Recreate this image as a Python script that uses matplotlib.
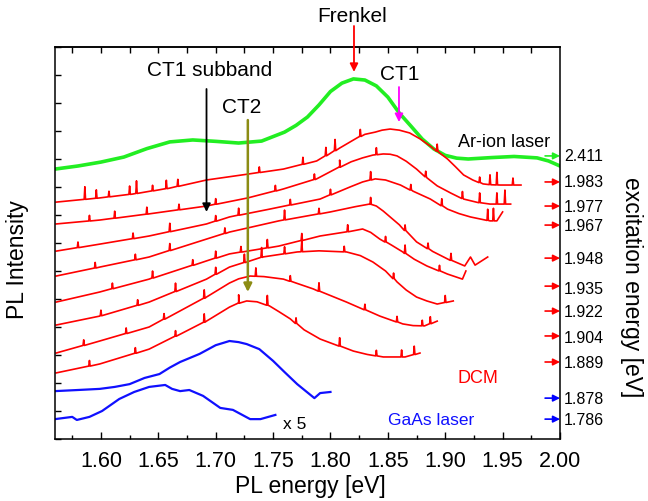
import numpy as np
import matplotlib.pyplot as plt

plt.rcParams['font.family'] = ['Liberation Sans', 'DejaVu Sans']

# Ar-ion laser excitation (2.411 eV)
green_x = [1.560, 1.580, 1.600, 1.620, 1.640, 1.660, 1.680, 1.700, 1.720, 1.740, 1.760, 1.770,
           1.780, 1.790, 1.800, 1.810, 1.820, 1.830, 1.840, 1.850, 1.860, 1.870, 1.880, 1.890,
           1.900, 1.910, 1.920, 1.940, 1.960, 1.980, 1.990, 2.000]
green_y = [9.64, 9.75, 9.89, 10.07, 10.37, 10.61, 10.68, 10.63, 10.57, 10.64, 10.96, 11.20,
           11.50, 11.93, 12.41, 12.71, 12.86, 12.82, 12.61, 12.21, 11.64, 11.18, 10.71, 10.36,
           10.13, 10.03, 10.00, 10.05, 10.09, 10.04, 9.93, 9.75]

# DCM dye laser excitation, curves from top to bottom
red_1983_x = [1.561, 1.599, 1.628, 1.660, 1.692, 1.728, 1.759, 1.788, 1.808, 1.823, 1.830, 1.839,
              1.845, 1.852, 1.860, 1.869, 1.878, 1.887, 1.895, 1.902, 1.909, 1.916, 1.924, 1.933,
              1.940, 1.948, 1.966]
red_1983_y = [8.46, 8.61, 8.75, 8.96, 9.25, 9.46, 9.64, 9.93, 10.39, 10.75, 10.88, 10.96,
              11.03, 11.07, 11.03, 10.93, 10.72, 10.46, 10.22, 10.00, 9.72, 9.43, 9.25, 9.11,
              9.08, 9.07, 9.07]
red_1983_spikes = [(1.586, 0.45), (1.596, 0.3), (1.607, 0.2), (1.625, 0.3), (1.631, 0.45),
                   (1.645, 0.2), (1.657, 0.3), (1.667, 0.25), (1.738, 0.2), (1.776, 0.25),
                   (1.796, 0.3), (1.804, 0.4), (1.826, 0.25), (1.893, 0.25), (1.930, 0.2),
                   (1.939, 0.35), (1.945, 0.45), (1.959, 0.25)]

red_1977_x = [1.561, 1.599, 1.642, 1.692, 1.728, 1.759, 1.788, 1.808, 1.818, 1.828, 1.837, 1.846,
              1.852, 1.858, 1.866, 1.875, 1.884, 1.893, 1.905, 1.916, 1.928, 1.939, 1.957]
red_1977_y = [7.68, 7.82, 8.04, 8.32, 8.61, 8.93, 9.29, 9.71, 9.90, 10.04, 10.14, 10.18,
              10.17, 10.11, 9.92, 9.64, 9.33, 9.04, 8.78, 8.57, 8.45, 8.39, 8.39]
red_1977_spikes = [(1.590, 0.2), (1.612, 0.25), (1.640, 0.25), (1.668, 0.2), (1.700, 0.2),
                   (1.752, 0.2), (1.786, 0.2), (1.808, 0.25), (1.840, 0.25), (1.883, 0.2),
                   (1.915, 0.25), (1.930, 0.35), (1.945, 0.4), (1.952, 0.5)]

red_1967_x = [1.561, 1.599, 1.642, 1.692, 1.712, 1.747, 1.791, 1.817, 1.828, 1.839, 1.848, 1.861,
              1.872, 1.887, 1.902, 1.912, 1.922, 1.939, 1.945, 1.950]
red_1967_y = [6.71, 6.96, 7.25, 7.68, 7.93, 8.21, 8.57, 9.00, 9.18, 9.29, 9.25, 9.07,
              8.85, 8.57, 8.21, 8.05, 7.93, 7.79, 7.79, 8.11]
red_1967_spikes = [(1.580, 0.2), (1.628, 0.2), (1.660, 0.3), (1.700, 0.2), (1.720, 0.25),
                   (1.765, 0.2), (1.800, 0.2), (1.835, 0.3), (1.870, 0.2), (1.897, 0.25),
                   (1.937, 0.4), (1.942, 0.45)]

red_1948_x = [1.561, 1.599, 1.642, 1.692, 1.712, 1.755, 1.800, 1.822, 1.834, 1.840, 1.846, 1.860,
              1.875, 1.889, 1.902, 1.917, 1.922, 1.926, 1.937]
red_1948_y = [5.82, 6.14, 6.50, 7.14, 7.39, 7.79, 8.11, 8.30, 8.39, 8.32, 8.14, 7.65,
              7.04, 6.70, 6.43, 6.18, 6.50, 6.21, 6.50]
red_1948_spikes = [(1.595, 0.2), (1.630, 0.2), (1.660, 0.25), (1.708, 0.2), (1.760, 0.35),
                   (1.790, 0.2), (1.835, 0.25), (1.865, 0.2), (1.885, 0.2), (1.905, 0.25)]

red_1935_x = [1.561, 1.599, 1.642, 1.692, 1.712, 1.755, 1.791, 1.818, 1.828, 1.835, 1.843, 1.853,
              1.863, 1.873, 1.884, 1.902, 1.915, 1.918]
red_1935_y = [4.89, 5.25, 5.71, 6.36, 6.61, 6.89, 7.25, 7.42, 7.50, 7.38, 7.14, 6.93,
              6.68, 6.42, 6.18, 5.89, 5.71, 6.00]
red_1935_spikes = [(1.610, 0.2), (1.645, 0.25), (1.680, 0.2), (1.700, 0.25), (1.722, 0.2),
                   (1.745, 0.3), (1.775, 0.25), (1.815, 0.25), (1.848, 0.2), (1.865, 0.3),
                   (1.895, 0.2)]

red_1922_x = [1.561, 1.599, 1.642, 1.692, 1.712, 1.741, 1.771, 1.790, 1.814, 1.826, 1.837, 1.848,
              1.858, 1.866, 1.875, 1.884, 1.893, 1.907]
red_1922_y = [4.07, 4.39, 4.89, 5.71, 6.14, 6.50, 6.68, 6.72, 6.68, 6.55, 6.32, 6.00,
              5.61, 5.32, 5.07, 4.93, 4.82, 4.93]
red_1922_spikes = [(1.600, 0.2), (1.632, 0.2), (1.665, 0.3), (1.700, 0.25), (1.725, 0.3),
                   (1.740, 0.35), (1.760, 0.25), (1.775, 0.4), (1.812, 0.2), (1.855, 0.2),
                   (1.900, 0.25)]

red_1904_x = [1.561, 1.599, 1.642, 1.692, 1.712, 1.720, 1.730, 1.742, 1.759, 1.770, 1.785, 1.814,
              1.843, 1.863, 1.872, 1.882, 1.893]
red_1904_y = [3.07, 3.50, 4.00, 5.07, 5.57, 5.72, 5.82, 5.80, 5.71, 5.57, 5.36, 4.89,
              4.39, 4.11, 4.05, 4.04, 4.21]
red_1904_spikes = [(1.585, 0.2), (1.622, 0.2), (1.655, 0.2), (1.690, 0.3), (1.735, 0.3),
                   (1.765, 0.2), (1.790, 0.3), (1.830, 0.2), (1.858, 0.2), (1.880, 0.2),
                   (1.887, 0.25)]

red_1889_x = [1.561, 1.599, 1.642, 1.692, 1.712, 1.720, 1.727, 1.736, 1.747, 1.755, 1.765, 1.777,
              1.791, 1.820, 1.832, 1.846, 1.865, 1.878]
red_1889_y = [2.36, 2.68, 3.21, 4.21, 4.71, 4.85, 4.93, 4.90, 4.75, 4.55, 4.29, 3.90,
              3.57, 3.14, 3.02, 2.93, 2.93, 3.07]
red_1889_spikes = [(1.590, 0.2), (1.630, 0.2), (1.665, 0.2), (1.690, 0.3), (1.720, 0.3),
                   (1.745, 0.35), (1.770, 0.2), (1.808, 0.3), (1.840, 0.2), (1.862, 0.25),
                   (1.873, 0.3)]

# GaAs laser excitation
blue_1878_x = [1.560, 1.580, 1.599, 1.612, 1.625, 1.638, 1.651, 1.660, 1.669, 1.686, 1.700, 1.712,
               1.720, 1.727, 1.738, 1.750, 1.760, 1.771, 1.786, 1.791, 1.800]
blue_1878_y = [1.71, 1.75, 1.79, 1.86, 1.96, 2.18, 2.32, 2.55, 2.75, 3.04, 3.35, 3.50,
               3.46, 3.39, 3.21, 2.79, 2.39, 1.96, 1.46, 1.64, 1.68]

blue_1786_x = [1.560, 1.575, 1.579, 1.590, 1.601, 1.616, 1.629, 1.642, 1.656, 1.662, 1.669, 1.677,
               1.689, 1.704, 1.715, 1.730, 1.739, 1.752]
blue_1786_y = [0.71, 0.79, 0.68, 0.79, 1.00, 1.43, 1.68, 1.86, 1.93, 1.79, 1.71, 1.75,
               1.54, 1.11, 1.04, 0.71, 0.71, 0.86]

# excitation energy labels on the right and where they sit
exc_labels = ['2.411', '1.983', '1.977', '1.967', '1.948', '1.935', '1.922', '1.904', '1.889',
              '1.878', '1.786']
exc_label_y = [10.11, 9.18, 8.32, 7.64, 6.46, 5.36, 4.54, 3.61, 2.75, 1.46, 0.71]
exc_arrow_y = [10.11, 9.18, 8.32, 7.64, 6.46, 5.46, 4.57, 3.68, 2.75, 1.46, 0.71]
exc_colors = ['#22ee22'] + ['red'] * 8 + ['blue'] * 2

xtick_vals = [1.60, 1.65, 1.70, 1.75, 1.80, 1.85, 1.90, 1.95, 2.00]
xtick_labels = ['1.60', '1.65', '1.70', '1.75', '1.80', '1.85', '1.90', '1.95', '2.00']


def with_spikes(x, y, spikes):
    px = list(x)
    py = list(y)
    for xs, h in spikes:
        base = np.interp(xs, x, y)
        px += [xs - 0.0006, xs, xs + 0.0006]
        py += [base, base + h, base]
    order = np.argsort(px)
    return np.array(px)[order], np.array(py)[order]


fig = plt.figure(figsize=(6.48, 5.02), dpi=100)
ax = fig.add_axes([0.0849, 0.1235, 0.7793, 0.7809])

ax.plot(green_x, green_y, color='#22ee22', lw=2.6)

reds = [(red_1983_x, red_1983_y, red_1983_spikes),
        (red_1977_x, red_1977_y, red_1977_spikes),
        (red_1967_x, red_1967_y, red_1967_spikes),
        (red_1948_x, red_1948_y, red_1948_spikes),
        (red_1935_x, red_1935_y, red_1935_spikes),
        (red_1922_x, red_1922_y, red_1922_spikes),
        (red_1904_x, red_1904_y, red_1904_spikes),
        (red_1889_x, red_1889_y, red_1889_spikes)]
for rx, ry, sp in reds:
    sx, sy = with_spikes(rx, ry, sp)
    ax.plot(sx, sy, color='red', lw=1.2)

ax.plot(blue_1878_x, blue_1878_y, color='#1010ff', lw=1.6)
ax.plot(blue_1786_x, blue_1786_y, color='#1010ff', lw=1.6)

ax.set_xlim(1.56, 2.0)
ax.set_ylim(0, 14)
ax.set_xticks(xtick_vals)
ax.set_xticklabels(xtick_labels, fontsize=15.5)
ax.set_xticks(np.arange(1.575, 2.0, 0.05), minor=True)
ax.tick_params(axis='x', which='major', direction='in', length=5, width=1, top=False, pad=8)
ax.tick_params(axis='x', which='minor', direction='in', length=3, width=1, top=False)
ax.set_yticks(np.arange(0, 15, 1))
ax.tick_params(axis='y', direction='in', length=4, width=1, labelleft=False)
top = ax.secondary_xaxis('top')
top.set_xticks(np.arange(1.575, 2.0, 0.025))
top.tick_params(direction='in', length=4, width=1, labeltop=False)
for s in list(ax.spines.values()) + [top.spines['top']]:
    s.set_linewidth(1.1)

fig.text(310 / 648, 1 - 487 / 502, 'PL energy [eV]', ha='center', va='center', fontsize=16.5)
fig.text(18 / 648, 1 - 260 / 502, 'PL Intensity', ha='center', va='center', fontsize=16.5,
         rotation=90)
fig.text(632 / 648, 1 - 287 / 502, 'excitation energy [eV]', ha='center', va='center',
         fontsize=16.5, rotation=270)

# right-hand excitation markers
ytr = ax.get_yaxis_transform()
for lab, yl, ya, c in zip(exc_labels, exc_label_y, exc_arrow_y, exc_colors):
    ax.annotate('', xy=(2.0, ya), xytext=(1.987, ya),
                arrowprops=dict(arrowstyle='-|>', color=c, lw=1.2, mutation_scale=10,
                                shrinkA=0, shrinkB=0), annotation_clip=False)
    ax.text(1.008, yl, lab, transform=ytr, ha='left', va='center', fontsize=11.5)


# peak annotations
def marker(x, y0, y1, color, lw=1.3):
    ax.annotate('', xy=(x, y1), xytext=(x, y0),
                arrowprops=dict(arrowstyle='-|>', color=color, lw=lw, mutation_scale=12,
                                shrinkA=0, shrinkB=0), annotation_clip=False)


marker(1.8205, 14.75, 13.11, 'red')
ax.text(1.819, 15.11, 'Frenkel', ha='center', va='center', fontsize=15, clip_on=False)
marker(1.8597, 12.57, 11.32, '#ff00ff')
ax.text(1.860, 13.04, 'CT1', ha='center', va='center', fontsize=15)
marker(1.692, 12.50, 8.11, 'black')
ax.text(1.695, 13.21, 'CT1 subband', ha='center', va='center', fontsize=15)
marker(1.728, 11.39, 5.25, '#8c8c14', lw=1.8)
ax.text(1.723, 11.86, 'CT2', ha='center', va='center', fontsize=15)

ax.text(1.951, 10.61, 'Ar-ion laser', ha='center', va='center', fontsize=13)
ax.text(1.9287, 2.21, 'DCM', ha='center', va='center', fontsize=13, color='red')
ax.text(1.888, 0.68, 'GaAs laser', ha='center', va='center', fontsize=12.5, color='#1010ff')
ax.text(1.769, 0.56, 'x 5', ha='center', va='center', fontsize=12.5)

fig.savefig('out.png', dpi=100)
